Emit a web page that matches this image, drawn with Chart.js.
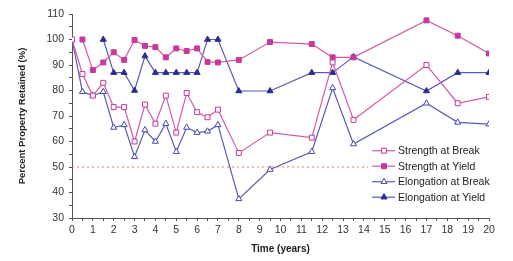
<!DOCTYPE html>
<html>
<head>
<meta charset="utf-8">
<script src="https://cdn.jsdelivr.net/npm/chart.js@4.4.1/dist/chart.umd.min.js"></script>
<style>
  html, body { margin: 0; padding: 0; background: #fff; }
  #wrap { width: 513px; height: 261px; }
</style>
</head>
<body>
<div id="wrap"><canvas id="chart-retained"></canvas></div>
<script>
// time points (years)
const times = [0, 0.5, 1, 1.5, 2, 2.5, 3, 3.5, 4, 4.5, 5, 5.5, 6, 6.5, 7, 8, 9.5, 11.5, 12.5, 13.5, 17, 18.5, 20];

const strengthBreak = [100, 86.5, 78, 83, 73.5, 73.5, 60, 74.5, 67, 78, 63.5, 79, 71.5, 69.5, 72.5, 55.5, 63.5, 61.5, 91, 68.5, 90, 75, 77.5];
const strengthYield = [null, 100, 88, 91, 95, 92, 99.8, 97.5, 97, 93, 96.5, 95.5, 96.5, 91.2, 91, 92, 99, 98.2, 93, 93, 107.5, 101.5, 94.5];
const elongationBreak = [100, 79.5, 78, 79.5, 65.5, 66.5, 54, 64.5, 60, 67, 56, 65.5, 63.5, 64, 66.5, 37.5, 49, 56, 81, 59, 75, 67.5, 66.8];
const elongationYield = [null, null, null, 100, 87, 87, 80, 93.5, 87, 87, 87, 87, 87, 100, 100, 79.8, 79.8, 87, 87, 93.2, 79.8, 87, 87];

const thresholdTimes = [0, 20];
const thresholdValues = [50, 50];

const seriesNames = ["Strength at Break", "Strength at Yield", "Elongation at Break", "Elongation at Yield"];

const PINK = "#c8389a";
const PINK_LINE = "#d45aa9";
const BLUE = "#2c2c8e";
const BLUE_LINE = "#5a5ab8";

const toPoints = (xs, ys) => xs.map((x, i) => ({x, y: ys[i]})).filter(p => p.y !== null);

const styles = [
    {line: PINK_LINE, border: PINK, fill: "#ffffff", shape: "rect"},
    {line: PINK_LINE, border: PINK, fill: PINK, shape: "rect"},
    {line: BLUE_LINE, border: "#4646a8", fill: "#ffffff", shape: "triangle"},
    {line: BLUE_LINE, border: BLUE, fill: BLUE, shape: "triangle"}
];

const datasets = [strengthBreak, strengthYield, elongationBreak, elongationYield].map((ys, i) => ({
    label: seriesNames[i],
    data: toPoints(times, ys),
    borderColor: styles[i].line,
    borderWidth: 1.2,
    pointStyle: styles[i].shape,
    pointRadius: 3.5,
    pointBorderWidth: 1,
    pointBorderColor: styles[i].border,
    pointBackgroundColor: styles[i].fill,
    tension: 0
}));

datasets.unshift({
    label: "50%",
    data: toPoints(thresholdTimes, thresholdValues),
    borderColor: "#e07a7a",
    borderWidth: 1.2,
    borderDash: [2, 3],
    pointRadius: 0
});

// legend drawn inside the plot, over the dotted line
const boxLegend = {
    id: "boxLegend",
    afterDraw(chart) {
        const ctx = chart.ctx;
        ctx.save();
        ctx.fillStyle = "#fff";
        ctx.fillRect(368, 142, 132, 64);
        ctx.font = "10.5px 'Liberation Sans', Arial, sans-serif";
        ctx.textBaseline = "middle";
        seriesNames.forEach((name, i) => {
            const y = 150.7 + i * 15.5;
            const s = styles[i];
            ctx.strokeStyle = s.line;
            ctx.lineWidth = 1.2;
            ctx.beginPath();
            ctx.moveTo(372, y);
            ctx.lineTo(395, y);
            ctx.stroke();
            ctx.fillStyle = s.fill;
            ctx.strokeStyle = s.border;
            ctx.lineWidth = 1;
            Chart.helpers.drawPoint(ctx, {pointStyle: s.shape, radius: 3.5, borderWidth: 1}, 384, y);
            ctx.fillStyle = "#222";
            ctx.fillText(name, 398, y + 0.5);
        });
        ctx.restore();
    }
};

const tickFont = {family: "'Liberation Sans', Arial, sans-serif", size: 10.5};
const titleFont = {family: "'Liberation Sans', Arial, sans-serif", weight: "bold"};

new Chart(document.getElementById("chart-retained"), {
    type: "line",
    data: {datasets},
    options: {
        responsive: true,
        maintainAspectRatio: false,
        animation: false,
        layout: {padding: {top: 14, right: 24, left: 0, bottom: 0}},
        plugins: {legend: {display: false}, tooltip: {enabled: false}},
        scales: {
            x: {
                type: "linear",
                min: 0,
                max: 20,
                afterFit(scale) { scale.height = 43; },
                border: {display: true, color: "#555", width: 1},
                grid: {drawOnChartArea: false, drawTicks: true, tickLength: 3, color: "#555"},
                ticks: {
                    stepSize: 0.5,
                    autoSkip: false,
                    maxRotation: 0,
                    padding: 3,
                    color: "#333",
                    font: tickFont,
                    callback: v => Number.isInteger(v) ? v : ""
                },
                title: {
                    display: true,
                    text: "Time (years)",
                    color: "#222",
                    font: {...titleFont, size: 10},
                    padding: {top: 0, bottom: 6}
                }
            },
            y: {
                min: 30,
                max: 110,
                afterFit(scale) { scale.width = 72; },
                border: {display: true, color: "#555", width: 1},
                grid: {drawOnChartArea: false, drawTicks: true, tickLength: 3, color: "#555"},
                ticks: {
                    stepSize: 5,
                    autoSkip: false,
                    padding: 5,
                    color: "#333",
                    font: tickFont,
                    callback: v => v % 10 === 0 ? v : ""
                },
                title: {
                    display: true,
                    text: "Percent Property Retained (%)",
                    color: "#222",
                    font: {...titleFont, size: 9.5},
                    padding: {top: 17, bottom: 0}
                }
            }
        }
    },
    plugins: [boxLegend]
});
</script>
</body>
</html>
